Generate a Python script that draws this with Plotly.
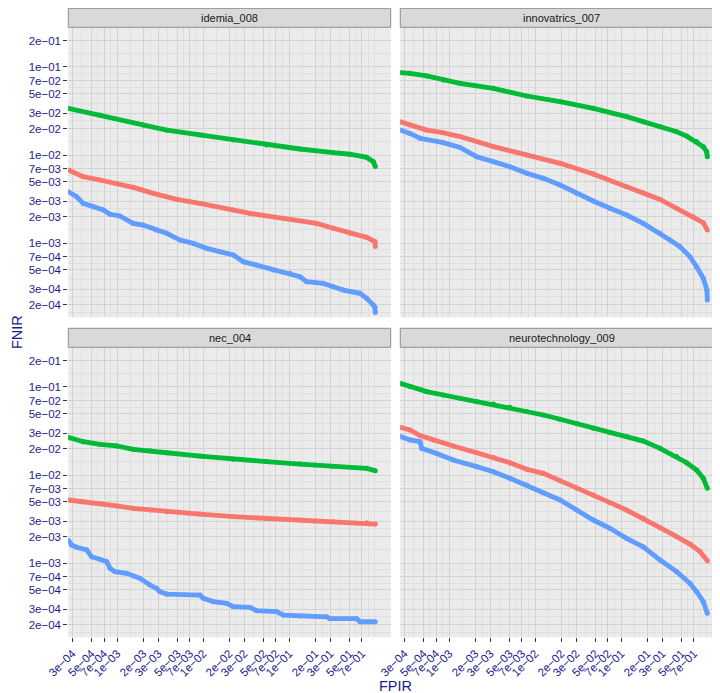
import math
import plotly.graph_objects as go

# ---------------- data ----------------
panel_names = ["idemia_008", "innovatrics_007", "nec_004", "neurotechnology_009"]

x_tick_vals = [3e-4, 5e-4, 7e-4, 1e-3, 2e-3, 3e-3, 5e-3, 7e-3, 1e-2, 2e-2, 3e-2,
               5e-2, 7e-2, 1e-1, 2e-1, 3e-1, 5e-1, 7e-1]
x_tick_text = ["3e\u221204", "5e\u221204", "7e\u221204", "1e\u221203", "2e\u221203", "3e\u221203",
               "5e\u221203", "7e\u221203", "1e\u221202", "2e\u221202", "3e\u221202", "5e\u221202",
               "7e\u221202", "1e\u221201", "2e\u221201", "3e\u221201", "5e\u221201", "7e\u221201"]
y_tick_vals = [2e-4, 3e-4, 5e-4, 7e-4, 1e-3, 2e-3, 3e-3, 5e-3, 7e-3, 1e-2, 2e-2, 3e-2,
               5e-2, 7e-2, 1e-1, 2e-1]
y_tick_text = ["2e\u221204", "3e\u221204", "5e\u221204", "7e\u221204", "1e\u221203", "2e\u221203",
               "3e\u221203", "5e\u221203", "7e\u221203", "1e\u221202", "2e\u221202", "3e\u221202",
               "5e\u221202", "7e\u221202", "1e\u221201", "2e\u221201"]

# idemia_008
idemia_green_fpir = [2.69e-4, 6.28e-4, 2.00e-3, 3.75e-3, 9.14e-3, 0.0223, 0.0545, 0.133, 0.325, 0.507, 0.793, 0.948, 1.0]
idemia_green_fnir = [0.0339, 0.0285, 0.0219, 0.0192, 0.0169, 0.0148, 0.0130, 0.0117, 0.01064, 0.0102, 0.0094, 0.0084, 0.0074]
idemia_red_fpir = [2.69e-4, 4.02e-4, 6.28e-4, 9.82e-4, 1.53e-3, 2.62e-3, 4.90e-3, 9.14e-3, 0.0223, 0.0349, 0.0851, 0.208, 0.325, 0.507, 0.793, 0.99, 1.0]
idemia_red_fnir = [6.76e-3, 5.67e-3, 5.20e-3, 4.76e-3, 4.29e-3, 3.67e-3, 3.13e-3, 2.82e-3, 2.37e-3, 2.17e-3, 1.91e-3, 1.67e-3, 1.47e-3, 1.29e-3, 1.16e-3, 1.04e-3, 9.1e-4]
idemia_blue_fpir = [2.69e-4, 3.36e-4, 4.02e-4, 5.26e-4, 6.87e-4, 8.22e-4, 1.07e-3, 1.53e-3, 2.00e-3, 2.87e-3, 3.75e-3, 5.35e-3, 7.65e-3, 0.01094, 0.01563, 0.0223, 0.0292, 0.0417, 0.0651, 0.1018, 0.133, 0.159, 0.248, 0.325, 0.425, 0.664, 0.793, 0.948, 0.99, 1.0]
idemia_blue_fnir = [3.83e-3, 3.36e-3, 2.82e-3, 2.59e-3, 2.37e-3, 2.12e-3, 2.03e-3, 1.67e-3, 1.60e-3, 1.41e-3, 1.29e-3, 1.08e-3, 9.9e-4, 8.7e-4, 7.98e-4, 7.31e-4, 6.14e-4, 5.62e-4, 4.94e-4, 4.52e-4, 4.14e-4, 3.64e-4, 3.48e-4, 3.19e-4, 2.92e-4, 2.68e-4, 2.35e-4, 1.97e-4, 1.86e-4, 1.62e-4]

# innovatrics_007
innov_green_fpir = [2.69e-4, 3.49e-4, 5.45e-4, 8.52e-4, 1.33e-3, 3.25e-3, 7.93e-3, 0.0194, 0.0472, 0.115, 0.180, 0.282, 0.440, 0.575, 0.751, 0.898, 0.982, 1.0]
innov_green_fnir = [0.0862, 0.0847, 0.0791, 0.0712, 0.0652, 0.0572, 0.0468, 0.0404, 0.0339, 0.0273, 0.0239, 0.0210, 0.0184, 0.0164, 0.0142, 0.01245, 0.0109, 0.00957]
innov_red_fpir = [2.69e-4, 3.49e-4, 5.45e-4, 8.52e-4, 1.33e-3, 3.25e-3, 7.93e-3, 0.0194, 0.0472, 0.115, 0.180, 0.282, 0.440, 0.687, 0.898, 1.0]
innov_red_fnir = [0.0239, 0.0219, 0.0192, 0.0179, 0.0162, 0.01245, 0.0100, 8.04e-3, 6.08e-3, 4.37e-3, 3.73e-3, 3.13e-3, 2.48e-3, 1.99e-3, 1.70e-3, 1.41e-3]
innov_blue_fpir = [2.69e-4, 3.49e-4, 4.56e-4, 8.52e-4, 1.33e-3, 2.08e-3, 3.25e-3, 5.07e-3, 7.93e-3, 0.0124, 0.0194, 0.0303, 0.0472, 0.0738, 0.115, 0.180, 0.282, 0.368, 0.481, 0.628, 0.751, 0.898, 0.99, 1.0]
innov_blue_fnir = [0.0192, 0.0176, 0.0155, 0.0138, 0.0122, 9.57e-3, 8.40e-3, 7.37e-3, 6.19e-3, 5.43e-3, 4.56e-3, 3.67e-3, 3.00e-3, 2.48e-3, 2.08e-3, 1.67e-3, 1.29e-3, 1.08e-3, 9.1e-4, 7.0e-4, 5.38e-4, 3.97e-4, 2.92e-4, 2.25e-4]

# nec_004
nec_green_fpir = [2.69e-4, 4.02e-4, 6.28e-4, 9.82e-4, 1.53e-3, 2.40e-3, 3.75e-3, 9.14e-3, 0.0223, 0.0545, 0.133, 0.325, 0.793, 1.0]
nec_green_fnir = [0.0268, 0.0239, 0.0223, 0.0214, 0.0196, 0.0189, 0.0179, 0.0164, 0.0151, 0.0142, 0.0133, 0.0126, 0.0119, 0.0112]
nec_red_fpir = [2.69e-4, 4.02e-4, 6.28e-4, 9.82e-4, 1.53e-3, 2.40e-3, 3.75e-3, 9.14e-3, 0.0223, 0.0545, 0.133, 0.325, 0.793, 1.0]
nec_red_fnir = [5.20e-3, 4.98e-3, 4.76e-3, 4.45e-3, 4.18e-3, 4.00e-3, 3.83e-3, 3.60e-3, 3.36e-3, 3.22e-3, 3.08e-3, 2.95e-3, 2.87e-3, 2.77e-3]
nec_blue_fpir = [2.69e-4, 2.94e-4, 3.36e-4, 4.40e-4, 5.03e-4, 6.28e-4, 7.51e-4, 8.22e-4, 9.39e-4, 1.28e-3, 1.53e-3, 1.83e-3, 2.40e-3, 2.87e-3, 3.13e-3, 3.75e-3, 9.14e-3, 0.0100, 0.01307, 0.01867, 0.0223, 0.0349, 0.0417, 0.0713, 0.0851, 0.133, 0.272, 0.297, 0.607, 0.664, 1.0]
nec_blue_fnir = [1.82e-3, 1.60e-3, 1.51e-3, 1.41e-3, 1.18e-3, 1.10e-3, 1.04e-3, 8.7e-4, 7.98e-4, 7.63e-4, 7.12e-4, 6.70e-4, 5.62e-4, 5.15e-4, 4.72e-4, 4.44e-4, 4.33e-4, 3.97e-4, 3.64e-4, 3.48e-4, 3.19e-4, 3.13e-4, 2.87e-4, 2.80e-4, 2.56e-4, 2.50e-4, 2.45e-4, 2.33e-4, 2.33e-4, 2.15e-4, 2.15e-4]

# neurotechnology_009
neuro_green_fpir = [2.69e-4, 3.49e-4, 5.45e-4, 8.52e-4, 1.33e-3, 2.08e-3, 3.25e-3, 5.07e-3, 7.93e-3, 0.0124, 0.0194, 0.0303, 0.0472, 0.0738, 0.115, 0.180, 0.282, 0.440, 0.575, 0.751, 0.898, 1.0]
neuro_green_fnir = [0.110, 0.101, 0.0885, 0.0811, 0.0743, 0.0681, 0.0641, 0.0588, 0.0525, 0.0481, 0.0430, 0.0384, 0.0339, 0.0305, 0.0273, 0.0243, 0.0201, 0.0162, 0.0138, 0.0114, 9.17e-3, 7.05e-3]
neuro_red_fpir = [2.69e-4, 3.49e-4, 4.56e-4, 6.52e-4, 1.11e-3, 2.08e-3, 3.25e-3, 5.07e-3, 7.93e-3, 0.0124, 0.0194, 0.0303, 0.0472, 0.0738, 0.115, 0.180, 0.282, 0.440, 0.628, 0.822, 1.0]
neuro_red_fnir = [0.0348, 0.0325, 0.0281, 0.0250, 0.0214, 0.0179, 0.0159, 0.0138, 0.0116, 0.01045, 8.63e-3, 7.05e-3, 5.93e-3, 4.85e-3, 4.00e-3, 3.22e-3, 2.52e-3, 1.99e-3, 1.64e-3, 1.35e-3, 1.06e-3]
neuro_blue_fpir = [2.69e-4, 3.49e-4, 4.56e-4, 4.77e-4, 7.13e-4, 1.11e-3, 2.08e-3, 3.25e-3, 5.07e-3, 7.93e-3, 0.0124, 0.0194, 0.0303, 0.0472, 0.0738, 0.115, 0.180, 0.282, 0.440, 0.628, 0.751, 0.898, 1.0]
neuro_blue_fnir = [0.0273, 0.0250, 0.0239, 0.0201, 0.0176, 0.0148, 0.01245, 0.0109, 9.17e-3, 7.70e-3, 6.30e-3, 5.20e-3, 4.00e-3, 3.08e-3, 2.48e-3, 1.91e-3, 1.53e-3, 1.08e-3, 7.98e-4, 5.88e-4, 4.72e-4, 3.64e-4, 2.68e-4]

# ---------------- style ----------------
# The page body has an 8px default margin, so the figure is drawn 8px smaller
# and all reference pixel positions are shifted by that offset.
OFF = 8
W, H = 720 - OFF, 693 - OFF
RED, GREEN, BLUE = "#F8766D", "#00BA38", "#619CFF"
FONT = "Liberation Sans, Arial, Helvetica, sans-serif"
LABEL_COLOR = "#1C1C8E"
BG = "#EBEBEB"
GRID_MAJOR = "#D2D2D2"
GRID_MINOR = "#DFDFDF"


def px(xw):
    return (xw - OFF) / W


def py(yw):
    return (H - (yw - OFF)) / H


panel_series = [
    [(idemia_red_fpir, idemia_red_fnir, RED), (idemia_green_fpir, idemia_green_fnir, GREEN), (idemia_blue_fpir, idemia_blue_fnir, BLUE)],
    [(innov_red_fpir, innov_red_fnir, RED), (innov_green_fpir, innov_green_fnir, GREEN), (innov_blue_fpir, innov_blue_fnir, BLUE)],
    [(nec_red_fpir, nec_red_fnir, RED), (nec_green_fpir, nec_green_fnir, GREEN), (nec_blue_fpir, nec_blue_fnir, BLUE)],
    [(neuro_red_fpir, neuro_red_fnir, RED), (neuro_green_fpir, neuro_green_fnir, GREEN), (neuro_blue_fpir, neuro_blue_fnir, BLUE)],
]


def minor_breaks(majors, lo, hi):
    lg = [math.log10(v) for v in majors]
    ext = [lg[0] - (lg[1] - lg[0])] + lg + [lg[-1] + (lg[-1] - lg[-2])]
    out = []
    for a, b in zip(ext[:-1], ext[1:]):
        out.append((a + b) / 2)
    out += [ext[0], ext[-1]]
    return [10 ** v for v in out if lo <= v <= hi]


# pixel geometry in the reference (window coordinates)
px_left = [(68.3, 390.7), (400.3, 722.7), (68.3, 390.7), (400.3, 722.7)]
py_top = [(27.3, 317.3), (27.3, 317.3), (347.3, 637.3), (347.3, 637.3)]
strip_y = [(8.3, 27.3), (8.3, 27.3), (328.3, 347.3), (328.3, 347.3)]
XR = (-3.570, 0.179)
YR = (-3.844, -0.549)
WIN_W = 720

fig = go.Figure()
for i, series in enumerate(panel_series):
    sfx = "" if i == 0 else str(i + 1)
    for fx, fy, col in series:
        fig.add_trace(go.Scatter(
            x=fx, y=fy, mode="lines+markers", xaxis="x" + sfx, yaxis="y" + sfx,
            line=dict(color=col, width=4.8), marker=dict(color=col, size=5),
            showlegend=False, hoverinfo="skip"))

layout = dict(width=W, height=H, margin=dict(l=0, r=0, t=0, b=0, autoexpand=False),
              paper_bgcolor="white", plot_bgcolor=BG, showlegend=False,
              font=dict(family=FONT))
shapes, annotations = [], []
for i in range(4):
    sfx = "" if i == 0 else str(i + 1)
    x0p, x1p = px_left[i]
    y0p, y1p = py_top[i]
    right_visible = min(x1p, WIN_W)
    xr1 = XR[0] + (XR[1] - XR[0]) * (right_visible - x0p) / (x1p - x0p)
    bottom_row = i >= 2
    left_col = i % 2 == 0
    xa = dict(domain=[px(x0p), min(px(right_visible), 1.0)], anchor="y" + sfx, type="log",
              range=[XR[0], xr1], tickvals=x_tick_vals, ticktext=x_tick_text,
              showticklabels=bottom_row, ticks="outside" if bottom_row else "",
              ticklen=4, tickwidth=1.1, tickcolor="#333333", tickangle=-45,
              tickfont=dict(size=11.5, color=LABEL_COLOR, family=FONT),
              showgrid=True, gridcolor=GRID_MAJOR, gridwidth=1.1, zeroline=False,
              showline=False, automargin=False,
              minor=dict(tickvals=minor_breaks(x_tick_vals, XR[0], XR[1]), showgrid=True,
                         gridcolor=GRID_MINOR, gridwidth=0.6, ticks=""))
    ya = dict(domain=[py(y1p), py(y0p)], anchor="x" + sfx, type="log",
              range=list(YR), tickvals=y_tick_vals, ticktext=y_tick_text,
              showticklabels=left_col, ticks="outside" if left_col else "",
              ticklen=4, tickwidth=1.1, tickcolor="#333333",
              tickfont=dict(size=11.5, color=LABEL_COLOR, family=FONT),
              showgrid=True, gridcolor=GRID_MAJOR, gridwidth=1.1, zeroline=False,
              showline=False, automargin=False,
              minor=dict(tickvals=minor_breaks(y_tick_vals, YR[0], YR[1]), showgrid=True,
                         gridcolor=GRID_MINOR, gridwidth=0.6, ticks=""))
    layout["xaxis" + sfx] = xa
    layout["yaxis" + sfx] = ya
    sy0, sy1 = strip_y[i]
    shapes.append(dict(type="rect", xref="paper", yref="paper",
                       x0=px(x0p), x1=px(x1p), y0=py(sy1), y1=py(sy0),
                       fillcolor="#D9D9D9", line=dict(color="#8E8E8E", width=1), layer="above"))
    annotations.append(dict(text=panel_names[i], xref="paper", yref="paper",
                            x=px((x0p + x1p) / 2), y=py((sy0 + sy1) / 2),
                            xanchor="center", yanchor="middle", showarrow=False,
                            font=dict(size=11, color="#1A1A1A", family=FONT)))

annotations.append(dict(text="FNIR", xref="paper", yref="paper", x=0, y=py(332),
                        xanchor="left", yanchor="middle", textangle=-90, showarrow=False,
                        borderpad=0,
                        font=dict(size=14.5, color=LABEL_COLOR, family=FONT)))
annotations.append(dict(text="FPIR", xref="paper", yref="paper", x=px(395.5), y=py(685.5),
                        xanchor="center", yanchor="middle", showarrow=False,
                        font=dict(size=14.5, color=LABEL_COLOR, family=FONT)))
layout["shapes"] = shapes
layout["annotations"] = annotations
fig.update_layout(**layout)
fig.write_html("out.html")
